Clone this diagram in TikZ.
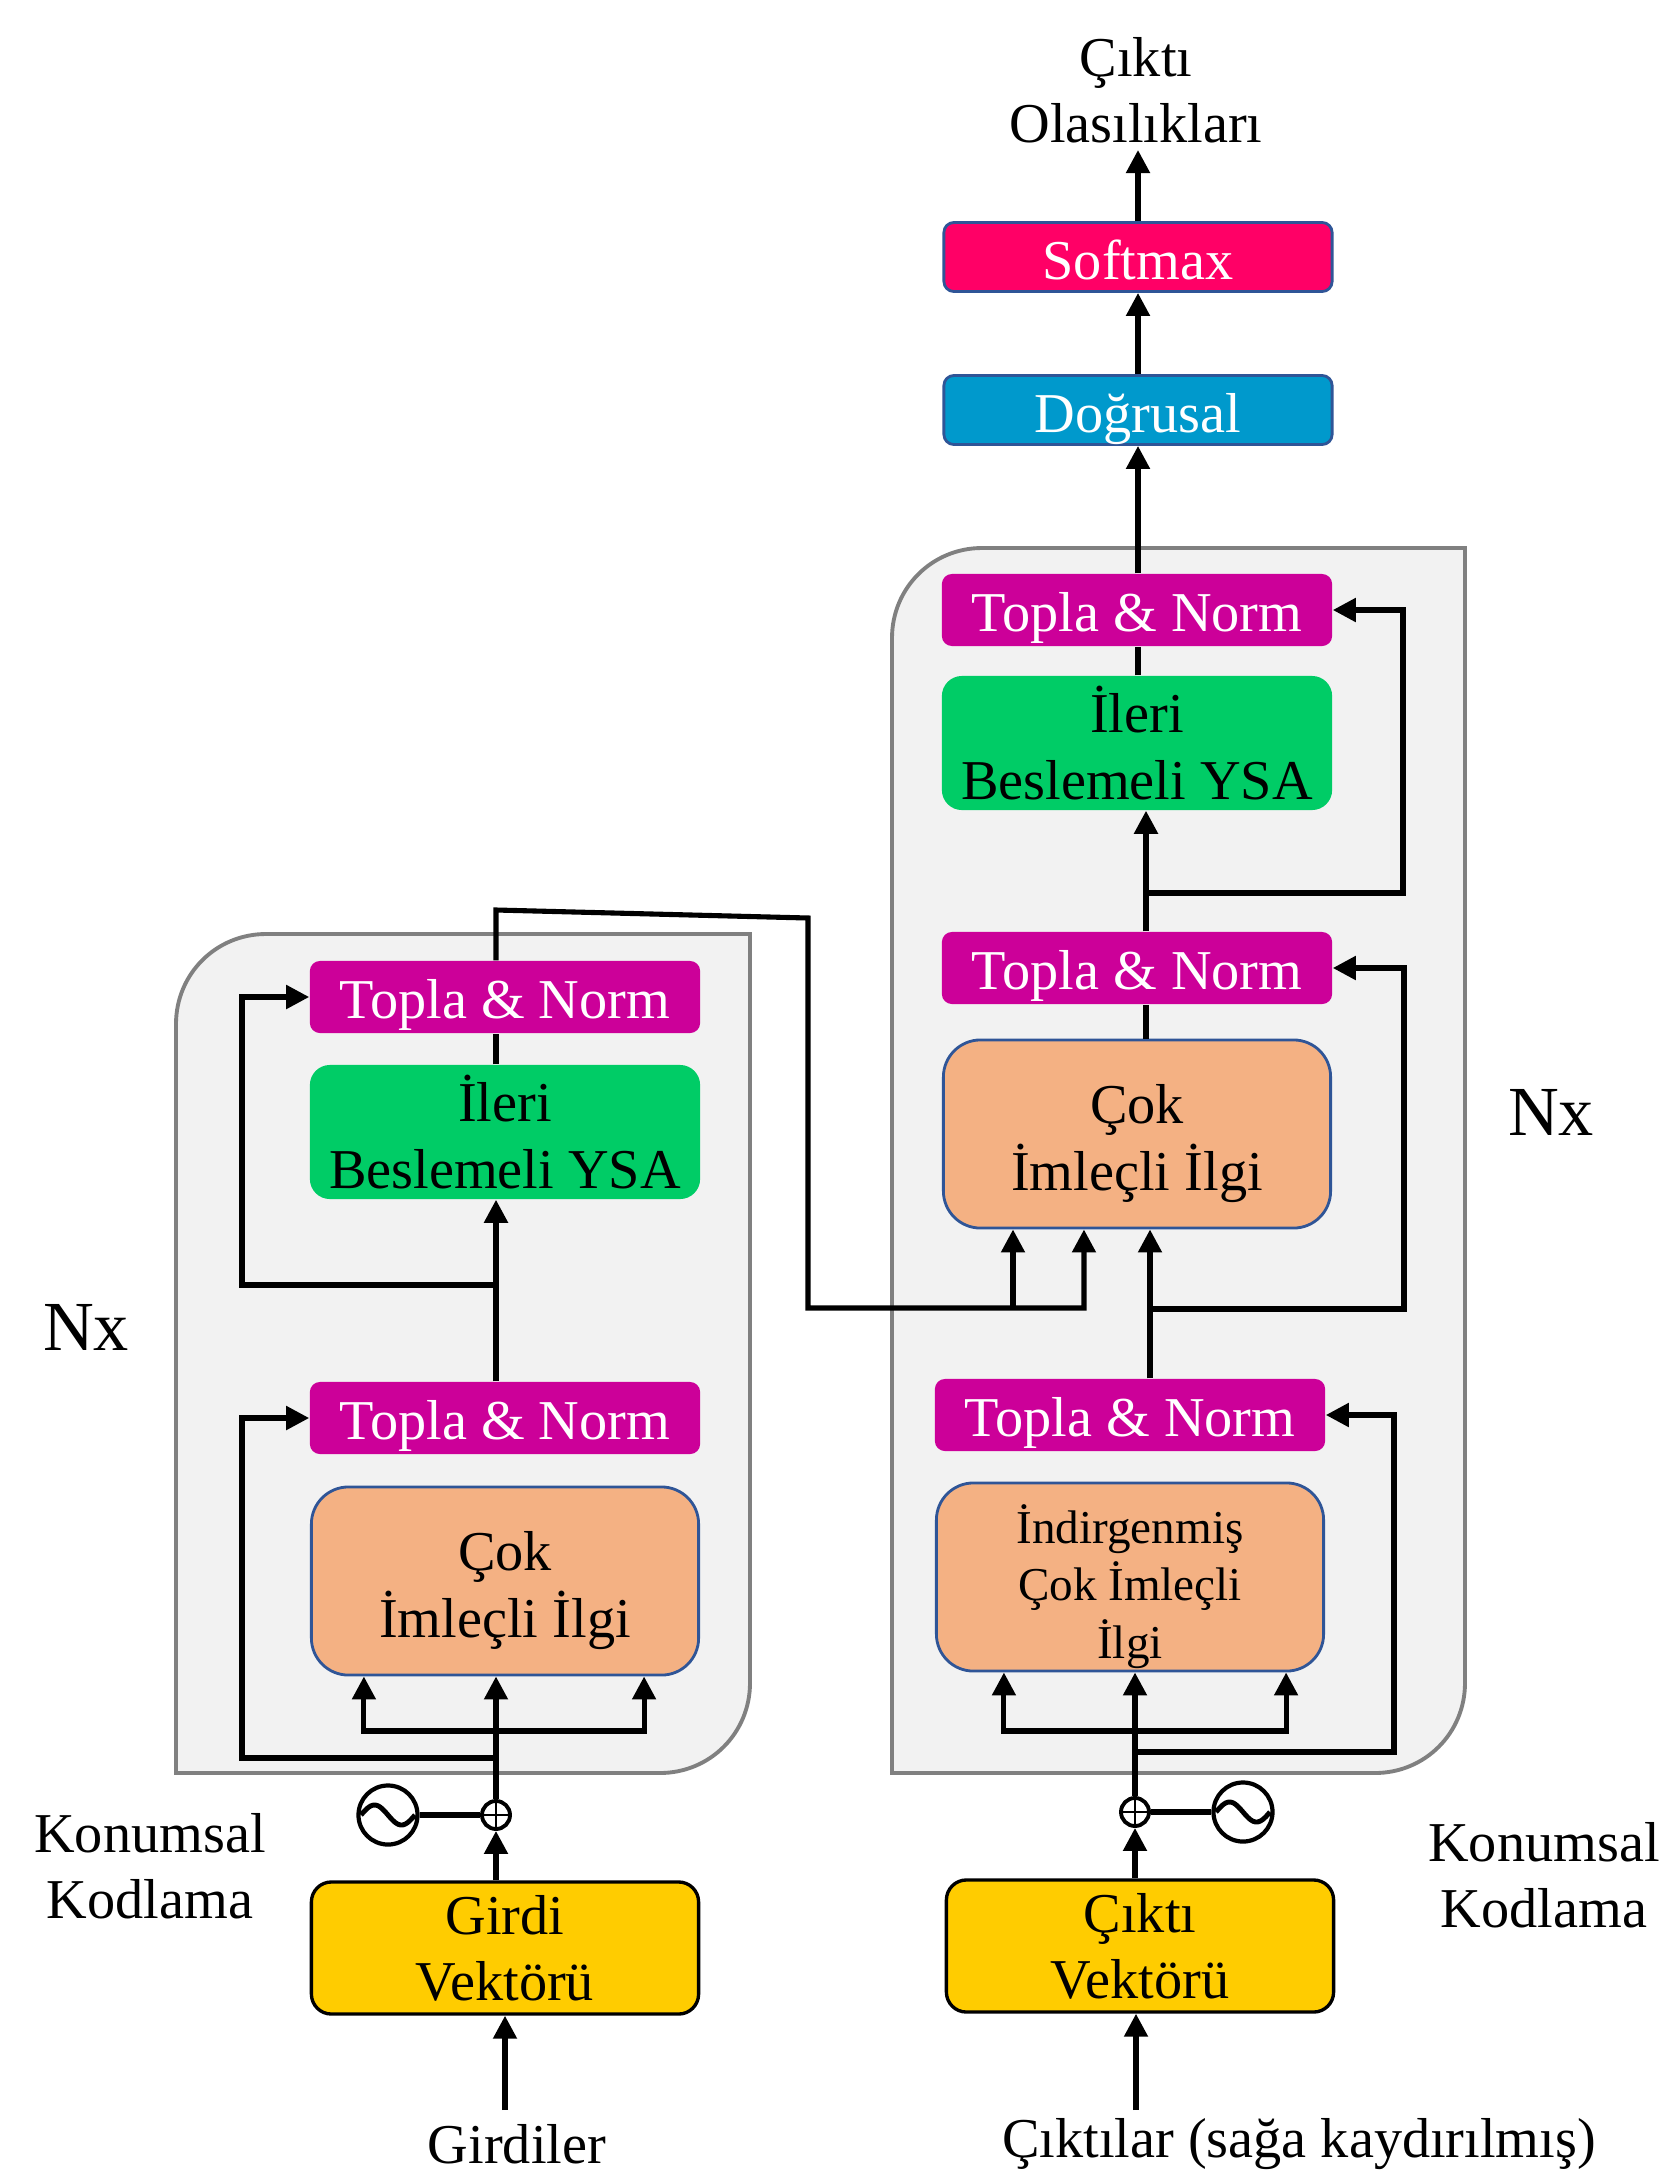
\documentclass[tikz,border=0pt]{standalone}
\usepackage{fontspec}
\setmainfont{Liberation Serif}
\usepackage{xcolor}
\usetikzlibrary{arrows.meta}
\definecolor{tnmag}{HTML}{CC0099}
\definecolor{ffgreen}{HTML}{00CC66}
\definecolor{attorange}{HTML}{F4B183}
\definecolor{attedge}{HTML}{2F5597}
\definecolor{vecyellow}{HTML}{FFCC00}
\definecolor{softred}{HTML}{FF0066}
\definecolor{linblue}{HTML}{0099CC}
\definecolor{blockfill}{HTML}{F2F2F2}
\definecolor{blockedge}{HTML}{808080}
\newcommand{\lift}{\rule{0pt}{0.58cm}}

\begin{document}
\begin{tikzpicture}[x=0.01cm,y=-0.01cm]
    \tikzstyle{txt}=[font=\fontsize{16}{18.8}\selectfont,align=center,inner sep=0pt]
    \tikzstyle{addnorm}=[txt,fill=tnmag,text=white,rounded corners=0.1cm,minimum width=3.9cm,minimum height=0.72cm,text height=0.42cm,text depth=0pt]
    \tikzstyle{ffn}=[txt,fill=ffgreen,rounded corners=0.2cm,minimum width=3.9cm,minimum height=1.34cm]
    \tikzstyle{attn}=[txt,fill=attorange,draw=attedge,line width=0.8pt,rounded corners=0.37cm,minimum width=3.87cm,minimum height=1.88cm]
    \tikzstyle{vec}=[txt,fill=vecyellow,draw=black,line width=0.95pt,rounded corners=0.2cm,minimum width=3.87cm,minimum height=1.32cm]
    \tikzstyle{head}=[txt,text=white,draw=attedge,line width=0.8pt,rounded corners=0.1cm,minimum width=3.88cm,minimum height=0.69cm,text height=0.44cm,text depth=0pt]
    \tikzstyle{block}=[fill=blockfill,draw=blockedge,line width=1.1pt]
    \tikzstyle{conn}=[line width=1.45pt]
    \tikzstyle{arr}=[conn,-{Triangle[length=0.23cm,width=0.23cm]}]
    \tikzstyle{plus}=[circle,draw,line width=1.1pt,minimum size=0.28cm,inner sep=0pt,
        path picture={\draw[line width=0.6pt] (path picture bounding box.north) -- (path picture bounding box.south)
            (path picture bounding box.west) -- (path picture bounding box.east);}]
    \tikzstyle{wave}=[circle,draw,line width=1.2pt,minimum size=0.59cm,inner sep=0pt]
    \tikzstyle{bigtxt}=[txt,font=\fontsize{20}{24}\selectfont]

    \useasboundingbox (0,0) rectangle (1659,2172);

    % encoder and decoder blocks
    \draw[block] (176,1773) -- (176,1024) .. controls (176,974) and (216,934) .. (266,934) -- (750,934)
        -- (750,1683) .. controls (750,1733) and (710,1773) .. (660,1773) -- cycle;
    \draw[block] (892,1773) -- (892,638) .. controls (892,588) and (932,548) .. (982,548) -- (1465,548)
        -- (1465,1683) .. controls (1465,1733) and (1425,1773) .. (1375,1773) -- cycle;

    \begin{scope}
    \node[addnorm] (enctn2) at (505,997) {Topla \& Norm};
    \node[ffn] (encff) at (505,1132) {İleri\\Beslemeli YSA};
    \node[addnorm] (enctn1) at (505,1418) {Topla \& Norm};
    \node[attn] (encatt) at (505,1581) {\lift Çok\\İmleçli İlgi};
    \node[vec] (encin) at (505,1948) {Girdi\\Vektörü};
    \node[plus] (encadd) at (496,1815) {};
    \node[wave] (encpe) at (388,1815) {};
    \node[txt] (inp) at (517,2144) {Girdiler};
    \node[txt] (encpelbl) at (150,1866) {Konumsal\\Kodlama};
    \node[bigtxt] (encnx) at (86,1327) {Nx};

    \draw[line width=1.4pt,shift={(encpe.center)}] plot[domain=-27:27,samples=40,smooth] (\x,{10*sin(6.667*\x)});

    \coordinate (inpend) at (505,2110);
    \coordinate (encsplit) at (496,1731);
    \coordinate (encres1) at (496,1758);
    \coordinate (encres2) at (496,1285);
    \draw[arr] (inpend) -- (encin.south);
    \draw[arr] (encin.north -| encadd) -- (encadd.south);
    \draw[conn] (encadd) -- (encpe);
    \draw[arr] (encadd.north) -- (encadd.north |- encatt.south);
    \draw[arr] (encsplit) -| ([xshift=-1.41cm]encatt.south);
    \draw[arr] (encsplit) -| ([xshift=1.39cm]encatt.south);
    \draw[arr] (encres1) -- (242,1758) |- (enctn1.west);
    \draw[arr] (enctn1.north -| encadd) -- (encff.south -| encadd);
    \draw[arr] (encres2) -- (242,1285) |- (enctn2.west);
    \draw[conn] (encff.north -| encadd) -- (enctn2.south -| encadd);
    \end{scope}

    \begin{scope}
    \node[addnorm] (dectn3) at (1137,610) {Topla \& Norm};
    \node[ffn] (decff) at (1137,743) {İleri\\Beslemeli YSA};
    \node[addnorm] (dectn2) at (1137,968) {Topla \& Norm};
    \node[attn] (decatt2) at (1137,1134) {\lift Çok\\İmleçli İlgi};
    \node[addnorm] (dectn1) at (1130,1415) {Topla \& Norm};
    \node[attn,font=\fontsize{13.4}{16.4}\selectfont] (decatt1) at (1130,1577) {\lift İndirgenmiş\\Çok İmleçli\\İlgi};
    \node[vec] (decin) at (1140,1946) {Çıktı\\Vektörü};
    \node[plus] (decadd) at (1135,1812) {};
    \node[wave] (decpe) at (1243,1812) {};
    \node[txt] (outp) at (1299,2144) {Çıktılar (sağa kaydırılmış)};
    \node[txt] (decpelbl) at (1544,1875) {Konumsal\\Kodlama};
    \node[bigtxt] (decnx) at (1551,1112) {Nx};
    \node[head,fill=linblue] (lin) at (1138,410) {Doğrusal};
    \node[head,fill=softred] (soft) at (1138,257) {Softmax};
    \node[txt] (probs) at (1136,90) {Çıktı\\Olasılıkları};

    \draw[line width=1.4pt,shift={(decpe.center)}] plot[domain=-27:27,samples=40,smooth] (\x,{10*sin(6.667*\x)});

    \coordinate (outend) at (1136,2110);
    \coordinate (probsend) at (1138,150);
    \coordinate (decsplit) at (1135,1731);
    \coordinate (decres1) at (1135,1752);
    \coordinate (decjoin) at (1150,1309);
    \coordinate (decjoin2) at (1146,893);
    \coordinate (crossk) at (1013,1308);
    \draw[arr] (outend) -- (outend |- decin.south);
    \draw[arr] (decin.north -| decadd) -- (decadd.south);
    \draw[conn] (decadd) -- (decpe);
    \draw[arr] (decadd.north) -- (decadd.north |- decatt1.south);
    \draw[arr] (decsplit) -| ([xshift=-1.26cm]decatt1.south);
    \draw[arr] (decsplit) -| ([xshift=1.56cm]decatt1.south);
    \draw[arr] (decres1) -- (1394,1752) |- (dectn1.east);
    \draw[arr] (decjoin |- dectn1.north) -- (decjoin |- decatt2.south);
    \draw[arr] (decjoin) -- (1404,1309) |- (dectn2.east);
    \draw[conn] (decjoin2 |- decatt2.north) -- (decjoin2 |- dectn2.south);
    \draw[arr] (decjoin2 |- dectn2.north) -- (decjoin2 |- decff.south);
    \draw[arr] (decjoin2) -- (1403,893) |- (dectn3.east);
    \draw[conn] (decff.north -| lin) -- (dectn3.south -| lin);
    \draw[arr] (dectn3.north -| lin) -- (lin.south);
    \draw[arr] (lin.north) -- (soft.south);
    \draw[arr] (soft.north) -- (probsend);
    \end{scope}

    % encoder output into decoder
    \draw[arr] (enctn2.north -| encadd) -- (496,910) -- (808,918) -- (808,1308) -| ([xshift=-0.53cm]decatt2.south);
    \draw[arr] (crossk) -- (crossk |- decatt2.south);

\end{tikzpicture}
\end{document}
